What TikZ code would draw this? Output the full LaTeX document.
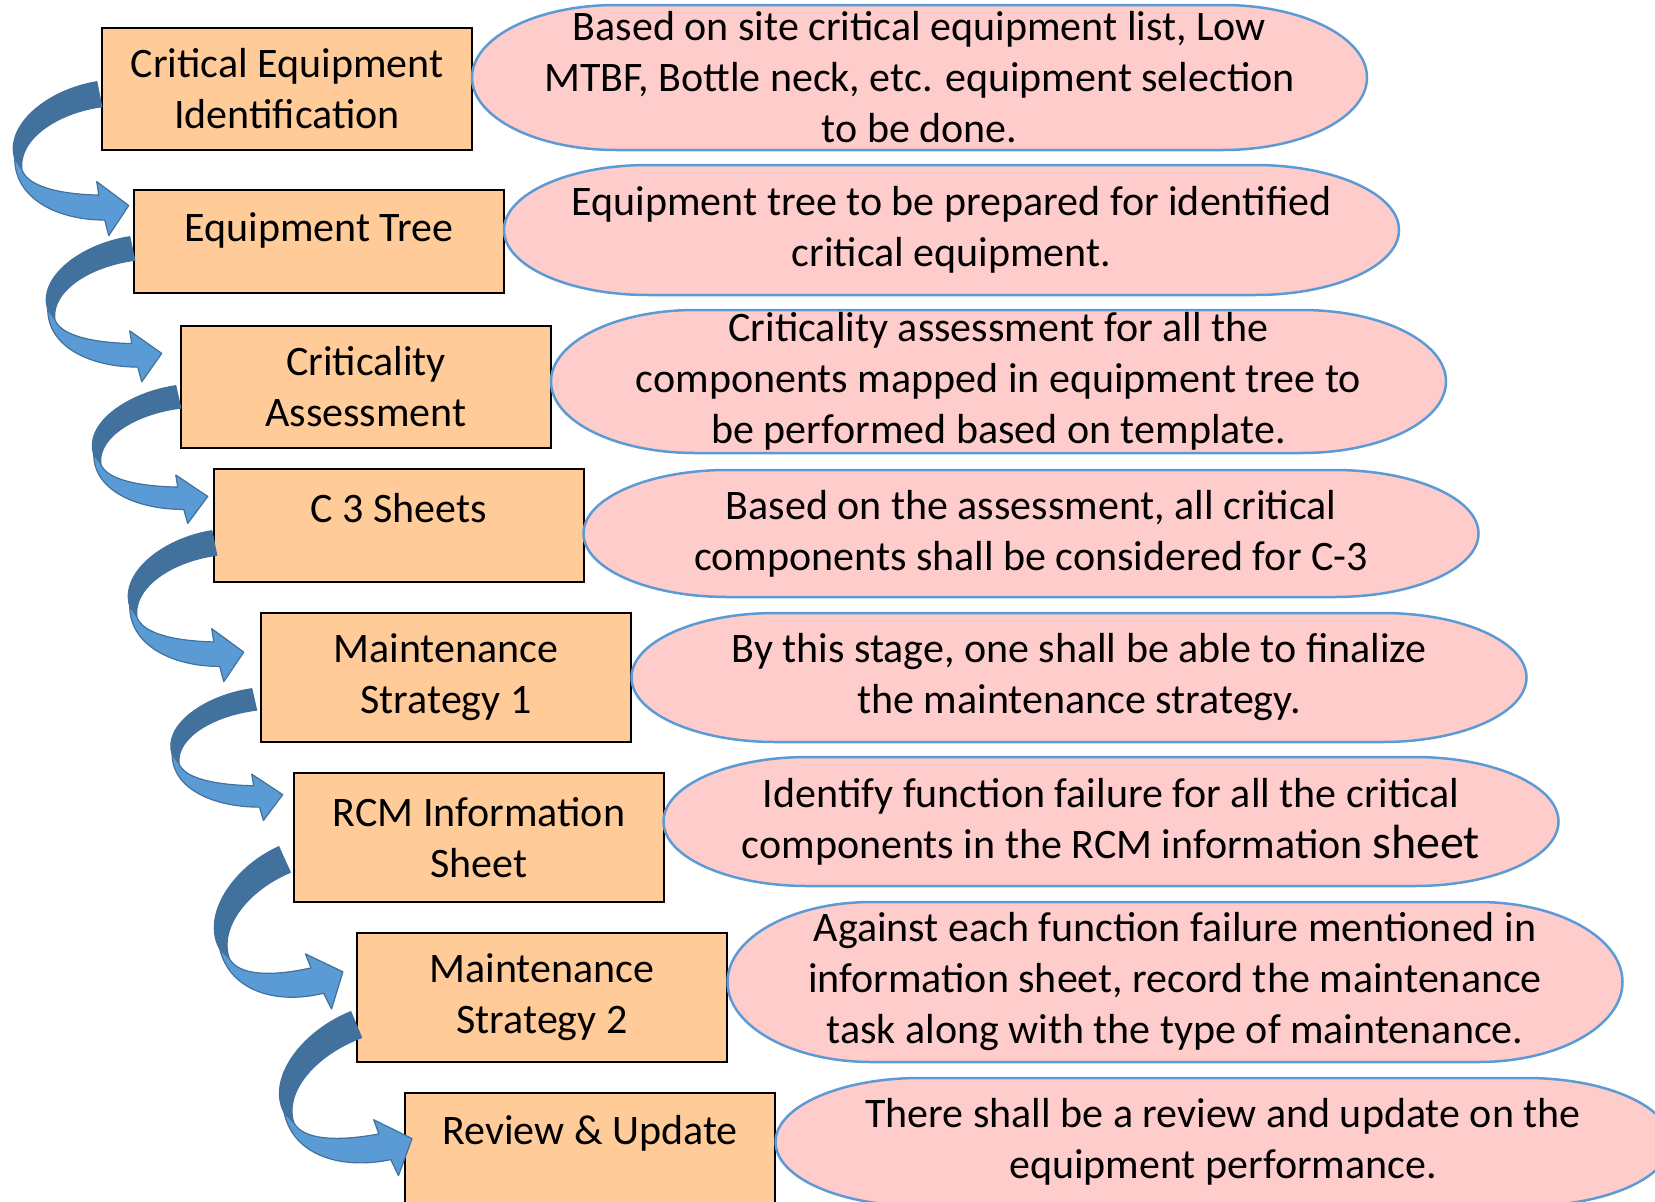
\documentclass[tikz,border=0pt]{standalone}
\usepackage{fontspec}
\setmainfont{Carlito}
\usetikzlibrary{calc}

\definecolor{boxfill}{HTML}{FFCC99}
\definecolor{notefill}{HTML}{FFCCCC}
\definecolor{noteline}{HTML}{5B9BD5}
\definecolor{ribbonlight}{HTML}{5B9BD5}
\definecolor{ribbondark}{HTML}{41719C}

% twisted block arrow: #1 = tail corner, #2 = extra transform
\newcommand{\twistarrow}[2]{%
  \begin{scope}[shift={#1},#2]
    \draw[ribbon,fill=ribbondark] (0,0) .. controls (-50,8) and (-92,42) .. (-82,74)
      -- (-75,84) .. controls (-78,55) and (-40,30) .. (5,24) -- cycle;
    \draw[ribbon,fill=ribbonlight] (-82,74) .. controls (-82,112) and (-40,133) .. (8,133)
      -- (12,148) -- (32,119) -- (0,96) -- (2,109)
      .. controls (-40,108) and (-70,100) .. (-75,84) -- cycle;
  \end{scope}}

% terminator shaped note: #1 name, #2 x, #3 y, #4 half height, #5 text
\newcommand{\notenode}[5]{%
  \pgfmathsetmacro{\nk}{0.5523*#4}
  \draw[noteshape] (#2-303.5,#3-#4) -- (#2+303.5,#3-#4)
    .. controls (#2+383,#3-#4) and (#2+447.5,#3-\nk) .. (#2+447.5,#3)
    .. controls (#2+447.5,#3+\nk) and (#2+383,#3+#4) .. (#2+303.5,#3+#4)
    -- (#2-303.5,#3+#4)
    .. controls (#2-383,#3+#4) and (#2-447.5,#3+\nk) .. (#2-447.5,#3)
    .. controls (#2-447.5,#3-\nk) and (#2-383,#3-#4) .. cycle;
  \node[notetext] (#1) at (#2,#3) {#5};}

\begin{document}
\begin{tikzpicture}[x=1pt,y=-1pt,
    stepbox/.style={draw=black,fill=boxfill,line width=2.5pt,inner sep=0pt,
      minimum width=370pt,align=center,font=\fontsize{42}{51}\selectfont},
    noteshape/.style={draw=noteline,fill=notefill,line width=2.5pt},
    notetext/.style={inner sep=0pt,align=center,font=\fontsize{42}{51}\selectfont},
    ribbon/.style={draw=ribbondark,line width=1.2pt,line join=round}]
    \useasboundingbox (0,0) rectangle (1655,1202);
    \clip (0,0) rectangle (1655,1202);

    % steps
    \node[stepbox,minimum height=122pt] (ceid) at (287,89) {Critical Equipment\\Identification};
    \node[stepbox,text height=51pt,text depth=52pt] (eqtree) at (319,241.5) {Equipment Tree};
    \node[stepbox,minimum height=122pt] (crit) at (366,387) {Criticality\\Assessment};
    \node[stepbox,text height=53pt,text depth=60pt] (cthree) at (399,525.5) {C 3 Sheets};
    \node[stepbox,minimum height=129pt] (mstrat1) at (446,677.5) {Maintenance\\Strategy 1};
    \node[stepbox,minimum height=129pt] (rcm) at (479,837.5) {RCM Information\\Sheet};
    \node[stepbox,minimum height=129pt] (mstrat2) at (542,997.5) {Maintenance\\Strategy 2};
    \node[stepbox,text height=51pt,text depth=79pt] (review) at (590,1158) {Review \& Update};

    % notes
    \notenode{ceidnote}{919.5}{77.5}{72.5}
      {Based on site critical equipment list, Low\\MTBF, Bottle neck, etc. equipment selection\\to be done.}
    \notenode{eqtreenote}{951.5}{230}{65}
      {Equipment tree to be prepared for identified\\critical equipment.}
    \notenode{critnote}{998.5}{381.5}{71.5}
      {Criticality assessment for all the\\components mapped in equipment tree to\\be performed based on template.}
    \notenode{cthreenote}{1031}{533.5}{63.5}
      {Based on the assessment, all critical\\components shall be considered for C-3}
    \notenode{mstrat1note}{1079}{677.5}{64.5}
      {By this stage, one shall be able to finalize\\the maintenance strategy.}
    \notenode{rcmnote}{1111}{821.5}{64.5}
      {Identify function failure for all the critical\\components in the RCM information {\fontsize{48}{51}\selectfont sheet}}
    \notenode{mstrat2note}{1175}{982}{80}
      {Against each function failure mentioned in\\information sheet, record the maintenance\\task along with the type of maintenance.}
    \notenode{reviewnote}{1223}{1142}{64}
      {There shall be a review and update on the\\equipment performance.}

    % arrows between the steps
    \twistarrow{($(ceid.north west)+(-4,55)$)}{yscale=1.04}
    \twistarrow{($(eqtree.north west)+(-3,48)$)}{yscale=.98}
    \twistarrow{($(crit.north west)+(-4,61)$)}{yscale=.93}
    \twistarrow{($(cthree.north west)+(-1,63)$)}{yscale=1.02}
    \twistarrow{($(mstrat1.north west)+(-8,77)$)}{xscale=.97,yscale=.89}
    \twistarrow{($(rcm.north west)+(-14,75)$)}{rotate=14,yscale=1.15}
    \twistarrow{($(mstrat2.north west)+(-5,80)$)}{rotate=12,xscale=1.05,yscale=1.15}
\end{tikzpicture}
\end{document}
